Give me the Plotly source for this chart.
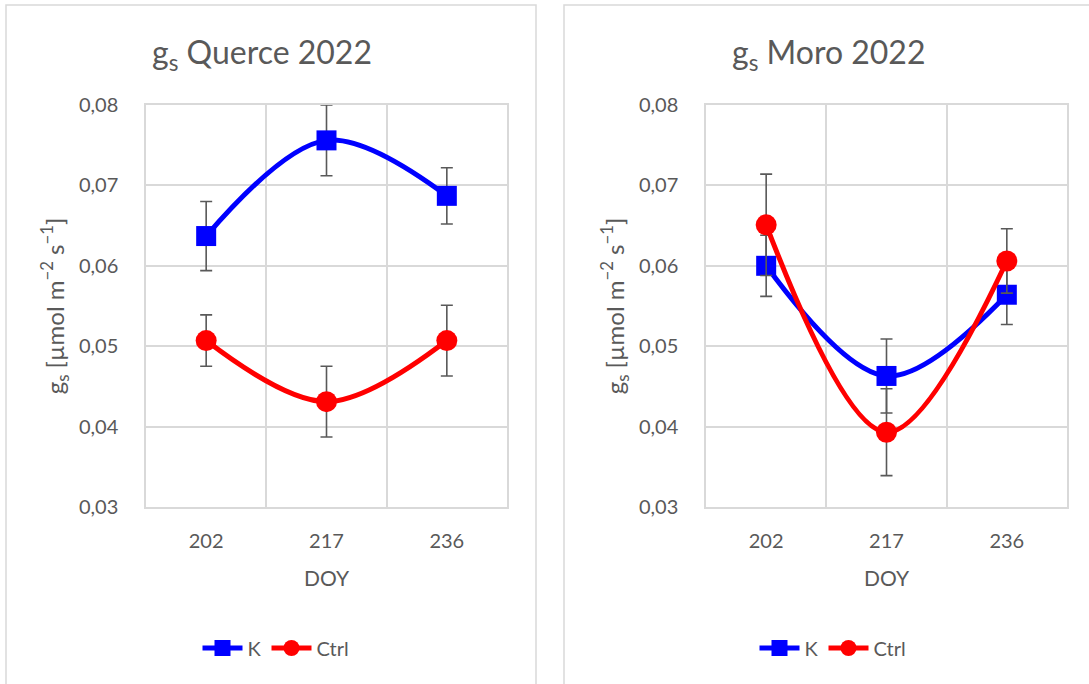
import plotly.graph_objects as go

# Day of year of each campaign
doy = ["202", "217", "236"]

# Querce site: stomatal conductance means and error bars
querce_k = [0.0637, 0.0756, 0.0687]
querce_k_err = [0.0043, 0.0044, 0.0035]
querce_ctrl = [0.0507, 0.0431, 0.0507]
querce_ctrl_err = [0.0032, 0.0044, 0.0044]

# Moro site
moro_k = [0.0600, 0.0463, 0.0564]
moro_k_err = [0.0038, 0.0046, 0.0037]
moro_ctrl = [0.0651, 0.0393, 0.0606]
moro_ctrl_err = [0.0063, 0.0054, 0.0040]

y_ticks = [0.03, 0.04, 0.05, 0.06, 0.07, 0.08]

W, H = 1089, 684
FONT = "Lato"
TXT = "#595959"
GRID = "#D9D9D9"
BLUE = "#0000FF"
RED = "#FF0000"


def px(x):
    return x / W


def py(y):
    return 1 - y / H


fig = go.Figure()


def add_series(xa, ya, values, errs, name, color, symbol, legend):
    fig.add_trace(go.Scatter(
        x=doy, y=values, name=name, xaxis=xa, yaxis=ya, legend=legend,
        mode="lines+markers",
        line=dict(color=color, width=5, shape="spline", smoothing=1),
        marker=dict(color=color, size=20 if symbol == "square" else 21, symbol=symbol),
        error_y=dict(type="data", array=errs, visible=True,
                     color=TXT, thickness=1.6, width=6),
    ))


add_series("x", "y", querce_k, querce_k_err, "K", BLUE, "square", "legend")
add_series("x", "y", querce_ctrl, querce_ctrl_err, "Ctrl", RED, "circle", "legend")
add_series("x2", "y2", moro_k, moro_k_err, "K", BLUE, "square", "legend2")
add_series("x2", "y2", moro_ctrl, moro_ctrl_err, "Ctrl", RED, "circle", "legend2")

y_dom = [py(507), py(105)]

xaxis_common = dict(
    type="category", range=[-0.5, 2.5], tickson="boundaries",
    showgrid=True, gridcolor=GRID, gridwidth=1.5,
    showline=True, mirror=True, linecolor=GRID, linewidth=1.5,
    ticks="", tickfont=dict(family=FONT, size=20, color=TXT),
    ticklabelstandoff=15, automargin=False,
    title=dict(text="DOY", font=dict(family=FONT, size=21, color=TXT), standoff=21),
    fixedrange=True,
)
yaxis_common = dict(
    range=[0.03, 0.08], tickvals=y_ticks, tickformat=".2f",
    showgrid=True, gridcolor=GRID, gridwidth=1.5,
    showline=True, mirror=True, linecolor=GRID, linewidth=1.5,
    zeroline=False, ticks="",
    tickfont=dict(family=FONT, size=20, color=TXT),
    ticklabelstandoff=22, automargin=False,
    title=dict(text="g<sub>s</sub> [µmol m<sup>−2</sup> s<sup>−1</sup>]",
               font=dict(family=FONT, size=24, color=TXT), standoff=8),
    fixedrange=True,
)

fig.update_layout(
    width=W, height=H,
    margin=dict(l=0, r=0, t=0, b=0, autoexpand=False),
    paper_bgcolor="white", plot_bgcolor="white",
    separators=",.",
    font=dict(family=FONT, color=TXT),
    xaxis=dict(xaxis_common, domain=[px(146), px(507)], anchor="y"),
    yaxis=dict(yaxis_common, domain=y_dom, anchor="x"),
    xaxis2=dict(xaxis_common, domain=[px(706), px(1067)], anchor="y2"),
    yaxis2=dict(yaxis_common, domain=y_dom, anchor="x2"),
    legend=dict(orientation="h", x=px(276), y=py(648), xanchor="center", yanchor="middle",
                font=dict(family=FONT, size=20, color=TXT), itemwidth=40,
                bgcolor="rgba(0,0,0,0)"),
    legend2=dict(orientation="h", x=px(833), y=py(648), xanchor="center", yanchor="middle",
                 font=dict(family=FONT, size=20, color=TXT), itemwidth=40,
                 bgcolor="rgba(0,0,0,0)"),
    annotations=[
        dict(text="g<sub>s</sub> Querce 2022", x=px(262), y=py(54), xref="paper", yref="paper",
             showarrow=False, xanchor="center", yanchor="middle",
             font=dict(family=FONT, size=32, color=TXT)),
        dict(text="g<sub>s</sub> Moro 2022", x=px(828), y=py(54), xref="paper", yref="paper",
             showarrow=False, xanchor="center", yanchor="middle",
             font=dict(family=FONT, size=32, color=TXT)),
    ],
    shapes=[
        dict(type="rect", xref="paper", yref="paper", layer="below",
             x0=px(6), x1=px(536), y0=py(700), y1=py(5),
             line=dict(color=GRID, width=1.5)),
        dict(type="rect", xref="paper", yref="paper", layer="below",
             x0=px(564), x1=px(1100), y0=py(700), y1=py(5),
             line=dict(color=GRID, width=1.5)),
    ],
)

fig.write_html("out.html")
